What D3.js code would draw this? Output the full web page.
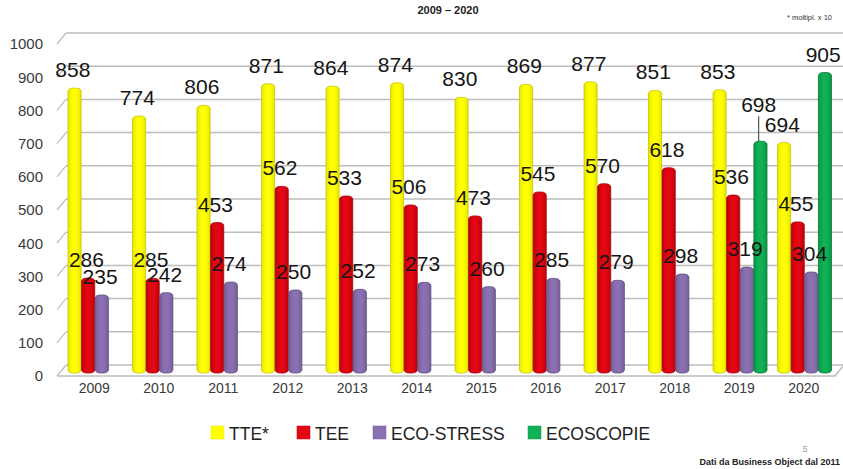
<!DOCTYPE html>
<html>
<head>
<meta charset="utf-8">
<script src="https://cdn.jsdelivr.net/npm/d3@7/dist/d3.min.js"></script>
<style>
  html, body { margin: 0; padding: 0; background: #fff; }
  svg { display: block; }
</style>
</head>
<body>
<svg id="chart" width="843" height="469"></svg>
<script>
// Yearly counts per exam type (TTE values are multiplied by 10)
const years = ["2009","2010","2011","2012","2013","2014","2015","2016","2017","2018","2019","2020"];
const seriesNames = ["TTE*", "TEE", "ECO-STRESS", "ECOSCOPIE"];
const tte       = [858, 774, 806, 871, 864, 874, 830, 869, 877, 851, 853, 694];
const tee       = [286, 285, 453, 562, 533, 506, 473, 545, 570, 618, 536, 455];
const ecoStress = [235, 242, 274, 250, 252, 273, 260, 285, 279, 298, 319, 304];
const ecoscopie = [null, null, null, null, null, null, null, null, null, null, 698, 905];
const yTicks = [0, 100, 200, 300, 400, 500, 600, 700, 800, 900, 1000];

const seriesValues = [tte, tee, ecoStress, ecoscopie];
const colors = {
  "TTE*":       { fill: "#ffff00", edge: "#c9c400", dark: "#e6e600" },
  "TEE":        { fill: "#e30613", edge: "#a30008", dark: "#c0000c" },
  "ECO-STRESS": { fill: "#8a70b0", edge: "#5e4a80", dark: "#74609a" },
  "ECOSCOPIE":  { fill: "#10b055", edge: "#067a36", dark: "#0a9646" }
};

const svg = d3.select("#chart");
const defs = svg.append("defs");

// cylinder-like shading for each series
seriesNames.forEach((name, i) => {
  const c = colors[name];
  const g = defs.append("linearGradient").attr("id", "grad" + i)
    .attr("x1", "0%").attr("x2", "100%").attr("y1", "0%").attr("y2", "0%");
  g.append("stop").attr("offset", "0%").attr("stop-color", c.dark);
  g.append("stop").attr("offset", "35%").attr("stop-color", c.fill);
  g.append("stop").attr("offset", "65%").attr("stop-color", c.fill);
  g.append("stop").attr("offset", "100%").attr("stop-color", c.dark);
});

// scales
const x = d3.scaleBand().domain(years).range([64, 838]);
const xs = d3.scaleBand().domain(seriesNames).range([4, 58.5]);
const y = d3.scaleLinear().domain([0, 1000]).range([373, 41]);   // bars
const depth = 8;   // back wall offset
const yBack = v => y(v) - depth;   // gridlines on the back wall
const yFront = v => y(v) + 3;      // tick labels on the front edge

// gridlines on the back wall with slanted joins at the left
const grid = svg.append("g");
grid.selectAll("line.h").data(yTicks).join("line")
  .attr("x1", 66).attr("x2", 843)
  .attr("y1", d => yBack(d)).attr("y2", d => yBack(d))
  .attr("stroke", "#bdbdbd").attr("stroke-width", 1.5);
grid.selectAll("line.s").data(yTicks).join("line")
  .attr("x1", 57).attr("x2", 66)
  .attr("y1", d => yFront(d)).attr("y2", d => yBack(d))
  .attr("stroke", "#bdbdbd").attr("stroke-width", 1.2);
// floor front edge
grid.append("path")
  .attr("d", `M57,${yFront(0)} L835,${yFront(0)} L843,${yBack(0) + 1}`)
  .attr("fill", "none").attr("stroke", "#bdbdbd").attr("stroke-width", 1.5);

// y-axis tick labels
const yAxis = d3.axisLeft(d3.scaleLinear().domain([0, 1000]).range([yFront(0), yFront(1000)]))
  .tickValues(yTicks).tickSize(0).tickPadding(0).tickFormat(d3.format("d"));
const ya = svg.append("g").attr("transform", "translate(43,0)").call(yAxis);
ya.select(".domain").remove();
ya.selectAll("text").attr("font-family", "Liberation Sans, Arial, sans-serif")
  .attr("font-size", 15).attr("fill", "#3a3a3a");

// x-axis labels
const xAxis = d3.axisBottom(x).tickSize(0).tickPadding(0);
const xa = svg.append("g").attr("transform", "translate(-2,383)").call(xAxis);
xa.select(".domain").remove();
xa.selectAll("text").attr("font-family", "Liberation Sans, Arial, sans-serif")
  .attr("font-size", 14).attr("fill", "#3a3a3a");

// bars
const bars = [];
years.forEach((yr, yi) => {
  seriesNames.forEach((name, si) => {
    const v = seriesValues[si][yi];
    if (v != null) bars.push({ year: yr, series: name, si, value: v });
  });
});

const barG = svg.append("g");
barG.selectAll("rect").data(bars).join("rect")
  .attr("x", d => x(d.year) + xs(d.series))
  .attr("width", xs.bandwidth() - 0.5)
  .attr("y", d => y(d.value))
  .attr("height", d => y(0) - y(d.value))
  .attr("rx", 5).attr("ry", 3)
  .attr("fill", d => `url(#grad${d.si})`)
  .attr("stroke", d => colors[d.series].edge)
  .attr("stroke-width", 0.8);

// value labels
const labelFont = "Liberation Sans, Arial, sans-serif";
const lift = d => (d.series === "ECOSCOPIE" && d.year === "2019") ? 29 : 11;
const labels = svg.append("g");
labels.selectAll("text").data(bars).join("text")
  .attr("x", d => x(d.year) + xs(d.series) + xs.bandwidth() / 2 - 2)
  .attr("y", d => y(d.value) - lift(d))
  .attr("text-anchor", "middle")
  .attr("font-family", labelFont).attr("font-size", 21)
  .attr("fill", "#151515")
  .text(d => d.value);
// leader line for the raised label
labels.selectAll("line").data(bars.filter(d => lift(d) > 11)).join("line")
  .attr("x1", d => x(d.year) + xs(d.series) + xs.bandwidth() / 2 - 2)
  .attr("x2", d => x(d.year) + xs(d.series) + xs.bandwidth() / 2 - 2)
  .attr("y1", d => y(d.value) - lift(d) + 4)
  .attr("y2", d => y(d.value))
  .attr("stroke", "#333").attr("stroke-width", 1);

// title and notes
svg.append("text").attr("x", 448).attr("y", 14).attr("text-anchor", "middle")
  .attr("font-family", "Liberation Sans, Arial, sans-serif").attr("font-weight", "bold")
  .attr("font-size", 11).attr("fill", "#222").text("2009 – 2020");
svg.append("text").attr("x", 832).attr("y", 20).attr("text-anchor", "end")
  .attr("font-family", "Liberation Sans, Arial, sans-serif")
  .attr("font-size", 7.5).attr("fill", "#333").text("* moltipl. x 10");

// legend
const legendX = [211, 297, 373, 528];
const legend = svg.append("g");
seriesNames.forEach((name, i) => {
  legend.append("rect").attr("x", legendX[i]).attr("y", 426).attr("width", 13).attr("height", 13)
    .attr("fill", colors[name].fill).attr("stroke", colors[name].dark).attr("stroke-width", 0.5);
  legend.append("text").attr("x", legendX[i] + 18).attr("y", 440)
    .attr("font-family", "Liberation Sans, Arial, sans-serif")
    .attr("font-size", 17.5).attr("fill", "#222").text(name);
});

// footer
svg.append("text").attr("x", 805).attr("y", 452).attr("text-anchor", "middle")
  .attr("font-family", "Liberation Sans, Arial, sans-serif")
  .attr("font-size", 9).attr("fill", "#999").text("5");
svg.append("text").attr("x", 840).attr("y", 465).attr("text-anchor", "end")
  .attr("font-family", "Liberation Sans, Arial, sans-serif").attr("font-weight", "bold")
  .attr("font-size", 9).attr("fill", "#222").text("Dati da Business  Object dal 2011");
</script>
</body>
</html>
